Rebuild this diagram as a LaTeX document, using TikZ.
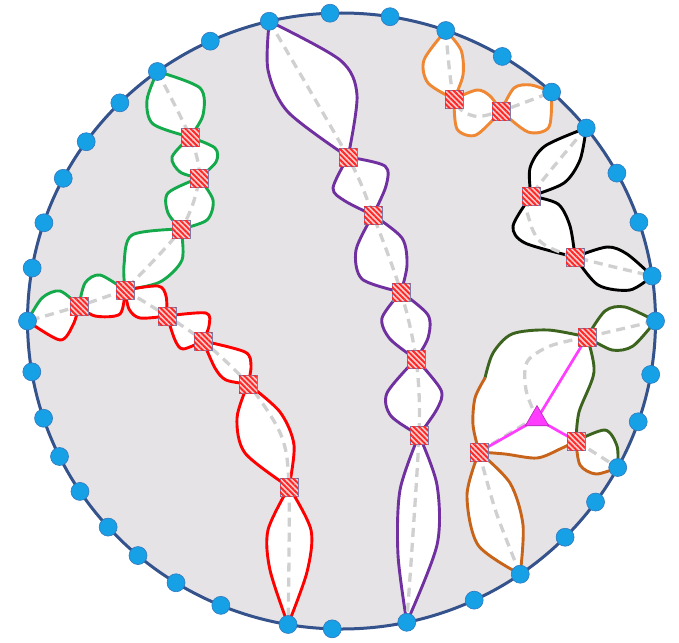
\documentclass[tikz,border=0pt]{standalone}
\usetikzlibrary{patterns.meta,shapes.geometric}
\definecolor{bgc}{RGB}{229,227,229}
\definecolor{rim}{RGB}{52,82,140}
\definecolor{dotc}{RGB}{22,160,230}
\definecolor{dotb}{RGB}{50,120,190}
\definecolor{sqb}{RGB}{120,128,176}
\definecolor{cgreen}{RGB}{20,170,75}
\definecolor{cred}{RGB}{255,0,0}
\definecolor{cpurple}{RGB}{112,48,160}
\definecolor{corange}{RGB}{240,135,50}
\definecolor{cdkgreen}{RGB}{60,100,30}
\definecolor{cbrown}{RGB}{200,100,25}
\definecolor{cmag}{RGB}{255,60,255}
\definecolor{cdash}{RGB}{208,208,208}
\pgfdeclarelayer{bg}\pgfdeclarelayer{lensfill}\pgfdeclarelayer{mid}
\pgfsetlayers{bg,lensfill,mid,main}
\newcommand\mylens[6]{%
 \begin{pgfonlayer}{lensfill}
 \fill[white] plot[smooth] coordinates {(#3.center) #4 (#5.center)} -- plot[smooth] coordinates {(#5.center) #6 (#3.center)} -- cycle;
 \end{pgfonlayer}
 \begin{pgfonlayer}{mid}
 \draw[lensline,draw=#1] plot[smooth] coordinates {(#3.center) #4 (#5.center)};
 \draw[lensline,draw=#2] plot[smooth] coordinates {(#5.center) #6 (#3.center)};
 \end{pgfonlayer}}
\begin{document}
\begin{tikzpicture}[x=1pt,y=-1pt,
 lensline/.style={line width=2.9pt,line join=round,line cap=round},
 dsh/.style={draw=cdash,line width=3.3pt,dash pattern=on 9pt off 6pt},
 bdot/.style={circle,fill=dotc,draw=dotb,line width=0.6pt,minimum size=18pt,inner sep=0pt},
 hsq/.style={rectangle,minimum size=18pt,inner sep=0pt,draw=sqb,line width=0.9pt,fill=red!20,
   postaction={pattern={Lines[angle=-45,distance=3.8pt,line width=1.9pt]},pattern color=red!85}},
 mtri/.style={regular polygon,regular polygon sides=3,minimum size=27pt,inner sep=0pt,fill=cmag,draw=cmag!70!black,line width=0.6pt},
 mline/.style={draw=cmag,line width=2.7pt}]
\useasboundingbox (0,0) rectangle (679,642);
\begin{pgfonlayer}{bg}
\filldraw[fill=bgc,draw=rim,line width=3pt] (341.5,321) ellipse [x radius=314pt,y radius=308pt];
\end{pgfonlayer}
% boundary dots
\foreach \a [count=\i] in {92.1,103.3,114.7,125.9,134.9,144.4,152.4,161.4,170.1,180,189.5,198.4,206.1,213.6,222,229.6,238.2,247.4,260.2,268.3,282,295,304.7,315.4,324,331.6,340.9,350,0,8.4,18.7,28.7,38.8,48,59.2,70.6,81.1}
  \node[bdot] (d\i) at ({341.5+314*cos(\a)},{321-308*sin(\a)}) {};
% inner squares
\node[hsq] (G1) at (190,137) {};
\node[hsq] (G2) at (199,178) {};
\node[hsq] (G3) at (181,229) {};
\node[hsq] (T) at (125,290) {};
\node[hsq] (L1) at (79,306) {};
\node[hsq] (R1) at (167,316) {};
\node[hsq] (R2) at (203,341) {};
\node[hsq] (R3) at (248,384) {};
\node[hsq] (R4) at (289,487) {};
\node[hsq] (P1) at (348,157) {};
\node[hsq] (P2) at (373,215) {};
\node[hsq] (P3) at (401,292) {};
\node[hsq] (P4) at (416,359) {};
\node[hsq] (P5) at (419,435) {};
\node[hsq] (O1) at (454,99) {};
\node[hsq] (O2) at (501,111) {};
\node[hsq] (K1) at (531,196) {};
\node[hsq] (K2) at (575,257) {};
\node[hsq] (S1) at (587,337) {};
\node[hsq] (S2) at (576,441) {};
\node[hsq] (S3) at (479,452) {};
\node[mtri] (tri) at (537,419) {};
% green / red tree
\mylens{cgreen}{cgreen}{d4}{(147,100) (153,124)}{G1}{(203,115) (200,88)}
\mylens{cgreen}{cgreen}{G1}{(172,157) (180,172)}{G2}{(216,162) (215,148)}
\mylens{cgreen}{cgreen}{G2}{(168,193) (168,213)}{G3}{(207,220) (213,200)}
\mylens{cgreen}{cgreen}{G3}{(132,235) (124,265)}{T}{(160,282) (182,260)}
\mylens{cgreen}{cred}{T}{(100,275) (85,283)}{L1}{(95,316) (120,314)}
\mylens{cgreen}{cred}{L1}{(60,291) (42,298)}{d10}{(60,340) (73,325)}
\mylens{cred}{cred}{T}{(158,286) (166,296)}{R1}{(140,318) (129,309)}
\mylens{cred}{cred}{R1}{(206,313) (209,326)}{R2}{(183,349) (175,340)}
\mylens{cred}{cred}{R2}{(245,352) (251,366)}{R3}{(226,380) (215,368)}
\mylens{cred}{cred}{R3}{(280,412) (294,445)}{R4}{(245,453) (237,418)}
\mylens{cred}{cred}{R4}{(268,530) (270,570)}{d19}{(307,572) (311,530)}
% purple chain
\mylens{cpurple}{cpurple}{d2}{(268,70) (288,112)}{P1}{(357,95) (340,60)}
\mylens{cpurple}{cpurple}{P1}{(333,188) (345,201)}{P2}{(386,186) (385,166)}
\mylens{cpurple}{cpurple}{P2}{(356,250) (362,279)}{P3}{(407,265) (402,238)}
\mylens{cpurple}{cpurple}{P3}{(382,318) (390,339)}{P4}{(428,338) (428,315)}
\mylens{cpurple}{cpurple}{P4}{(387,393) (391,416)}{P5}{(437,409) (441,390)}
\mylens{cpurple}{cpurple}{P5}{(400,490) (398,555)}{d21}{(437,545) (437,485)}
% orange chain
\mylens{corange}{corange}{d36}{(424,60) (428,83)}{O1}{(463,75) (461,50)}
\mylens{corange}{corange}{O1}{(477,90) (490,96)}{O2}{(476,135) (457,129)}
\mylens{corange}{corange}{O2}{(514,88) (531,85)}{d34}{(549,127) (528,132)}
% black chain
\mylens{black}{black}{d33}{(545,146) (530,168)}{K1}{(564,183) (580,160)}
\mylens{black}{black}{K1}{(513,226) (525,243)}{K2}{(570,226) (558,204)}
\mylens{black}{black}{K2}{(607,247) (627,254)}{d30}{(630,290) (598,285)}
% right cluster
\mylens{cdkgreen}{cdkgreen}{S1}{(605,311) (625,307)}{d29}{(633,346) (612,350)}
\mylens{cdkgreen}{cbrown}{S2}{(605,430) (617,446)}{d26}{(596,474) (580,465)}
\mylens{cbrown}{cbrown}{S3}{(467,495) (478,545)}{d23}{(523,525) (510,483)}
\coordinate (J) at (485,378);
\coordinate (tq) at (528,422);
\begin{pgfonlayer}{lensfill}
\fill[white] plot[smooth] coordinates {(S1.center) (548,330) (512,334) (493,353) (J)}
 -- plot[smooth] coordinates {(J) (475,398) (473,425) (S3.center)}
 -- plot[smooth] coordinates {(S3.center) (505,454) (537,458) (560,449) (S2.center)}
 -- plot[smooth] coordinates {(S2.center) (579,412) (594,372) (S1.center)} -- cycle;
\end{pgfonlayer}
\begin{pgfonlayer}{mid}
\draw[lensline,cdkgreen] plot[smooth] coordinates {(S1.center) (548,330) (512,334) (493,353) (J)};
\draw[lensline,cbrown] plot[smooth] coordinates {(J) (475,398) (473,425) (S3.center)};
\draw[lensline,cbrown] plot[smooth] coordinates {(S3.center) (505,454) (537,458) (560,449) (S2.center)};
\draw[lensline,cdkgreen] plot[smooth] coordinates {(S2.center) (579,412) (594,372) (S1.center)};
% dashed centre lines
\draw[dsh] plot[smooth] coordinates {(d4.center) (G1.center) (G2.center) (G3.center) (T.center)};
\draw[dsh] plot[smooth] coordinates {(T.center) (L1.center) (d10.center)};
\draw[dsh] plot[smooth] coordinates {(T.center) (R1.center) (R2.center) (R3.center) (281,435) (R4.center) (d19.center)};
\draw[dsh] plot[smooth] coordinates {(d2.center) (P1.center) (P2.center) (P3.center) (P4.center) (P5.center) (d21.center)};
\draw[dsh] plot[smooth] coordinates {(d36.center) (O1.center) (474,116) (O2.center) (d34.center)};
\draw[dsh] plot[smooth] coordinates {(d33.center) (K1.center) (530,222) (542,243) (K2.center) (d30.center)};
\draw[dsh] (S1.center) -- (d29.center);
\draw[dsh] plot[smooth] coordinates {(S1.center) (550,346) (527,362) (526,390) (tri.center)};
\draw[dsh] (S3.center) -- (tq);
\draw[dsh] (S2.center) -- (d26.center);
\draw[dsh] plot[smooth] coordinates {(S3.center) (496,512) (d23.center)};
% magenta spokes
\draw[mline] (tri.center) -- (S1.center);
\draw[mline] (tri.center) -- (S2.center);
\draw[mline] (tri.center) -- (S3.center);
\end{pgfonlayer}
\end{tikzpicture}
\end{document}
